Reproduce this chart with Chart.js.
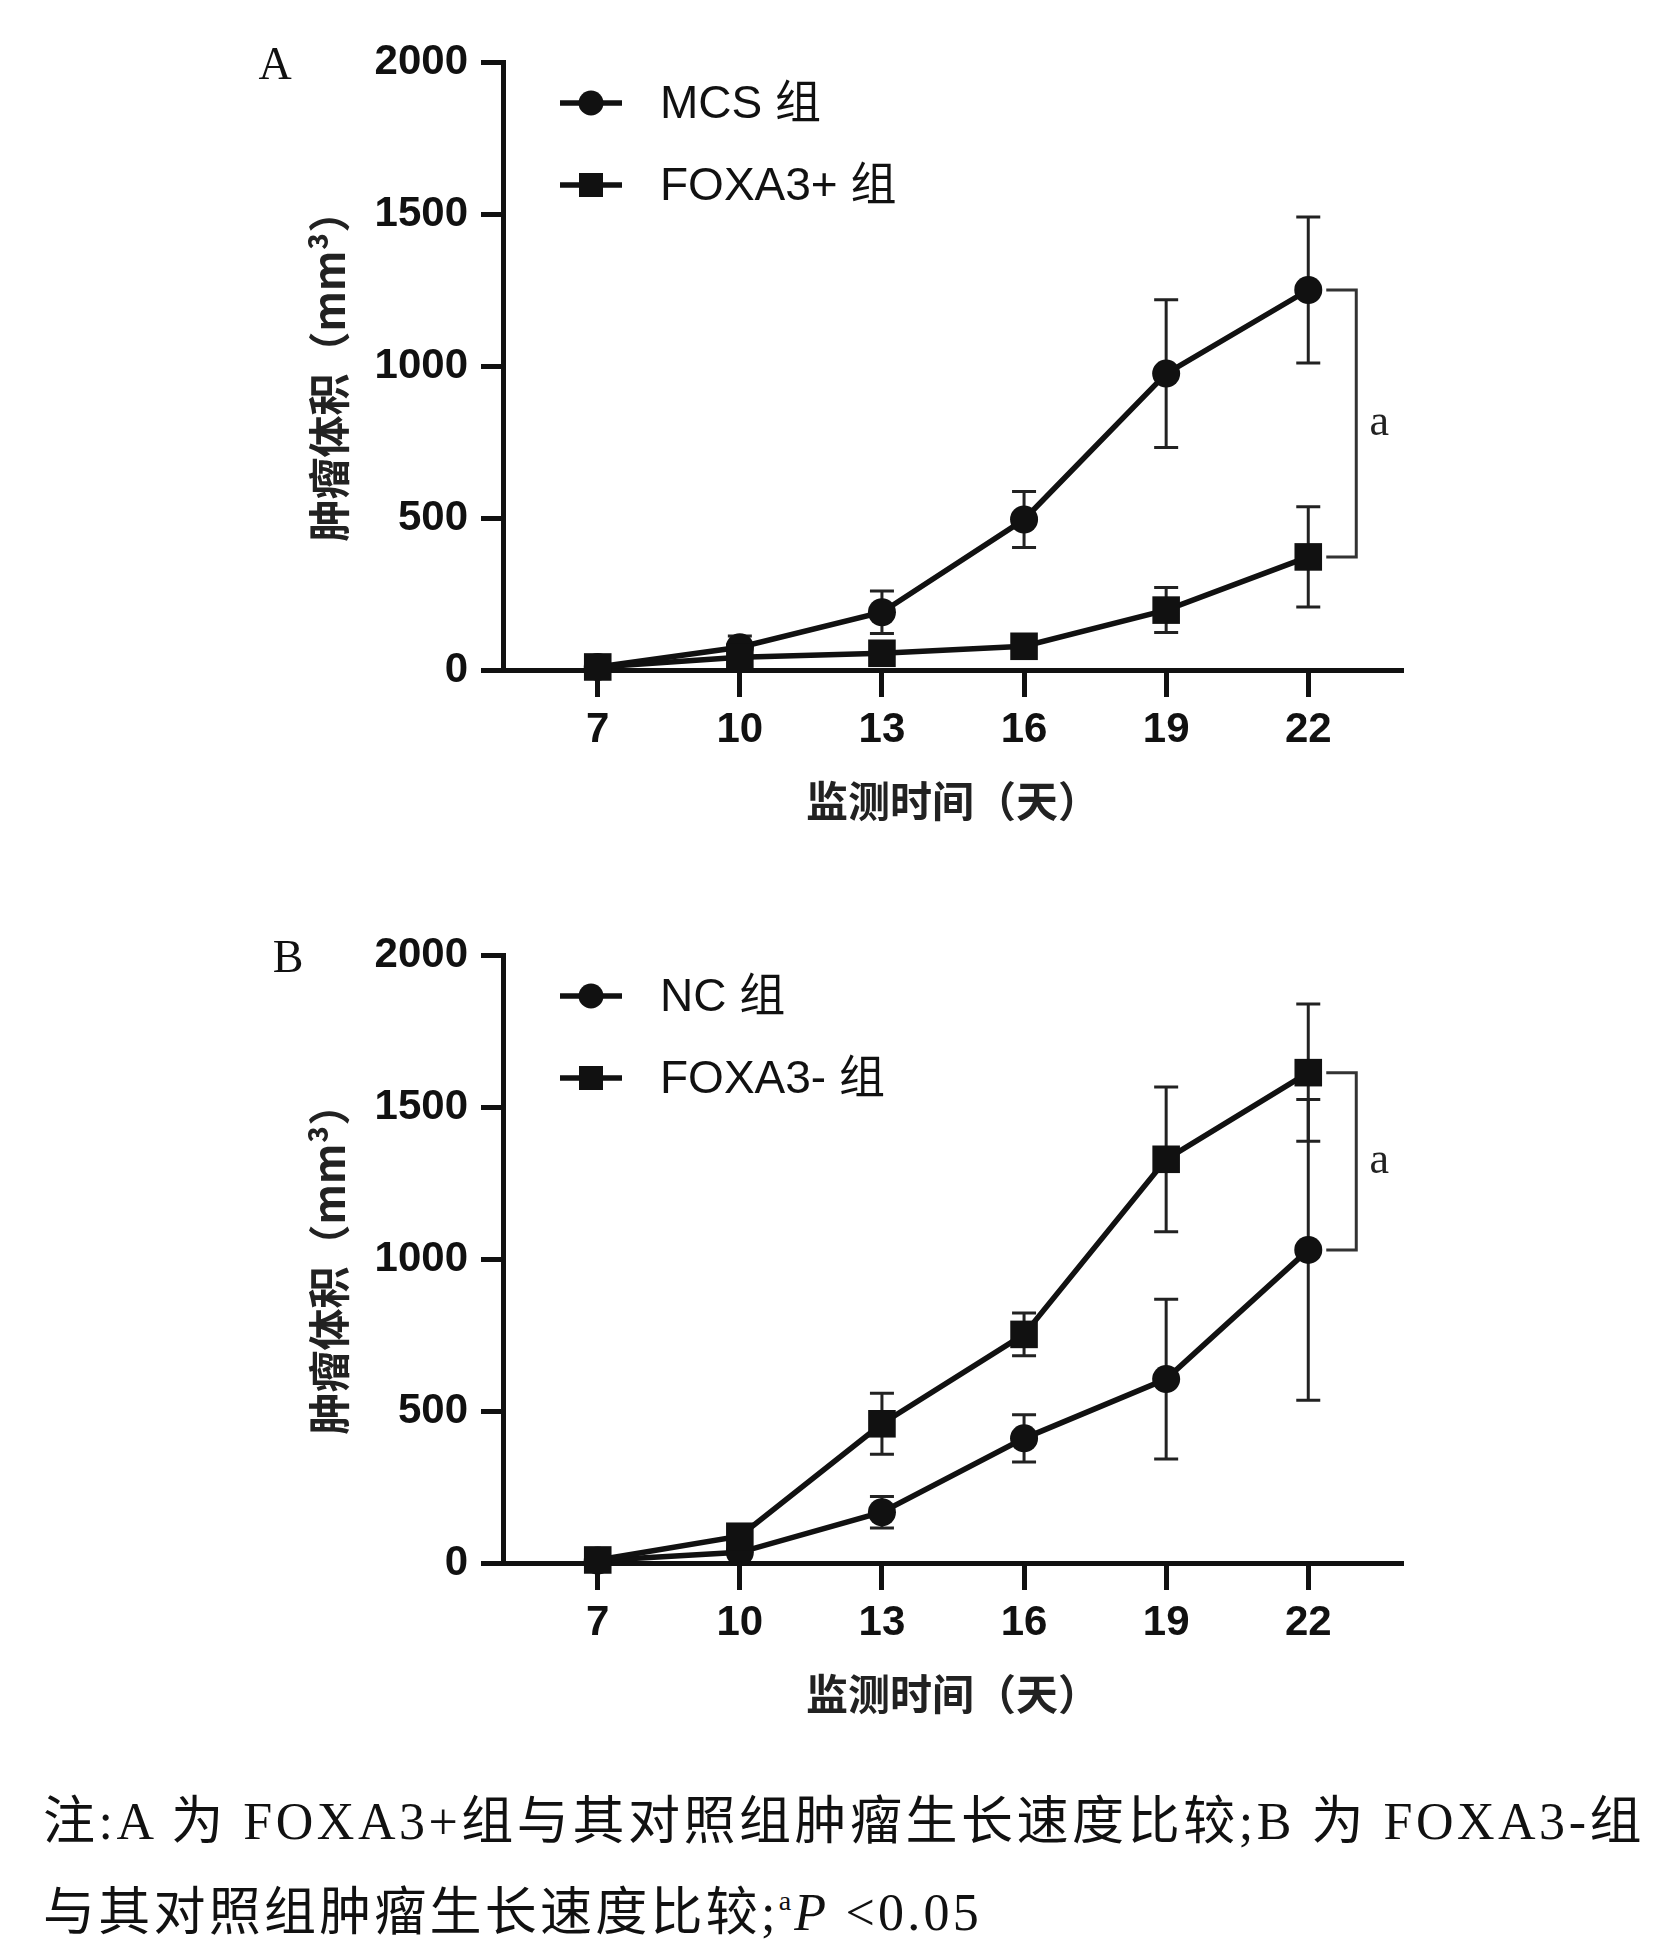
<!DOCTYPE html>
<html>
<head>
<meta charset="utf-8">
<script src="https://cdn.jsdelivr.net/npm/chart.js@4.4.1/dist/chart.umd.min.js"></script>
<style>
  html, body { margin: 0; padding: 0; background: #fff; }
  body { width: 1674px; height: 1952px; position: relative; overflow: hidden; }
  .panel { position: absolute; left: 0; width: 1674px; height: 880px; }
  .note { position: absolute; left: 43px; font-family: "Liberation Serif", "Noto Sans CJK SC", serif;
          font-size: 52px; line-height: 1; white-space: nowrap; color: #111; }
  .note sup { font-size: 28px; vertical-align: 20px; }
</style>
</head>
<body>
<div class="panel" style="top:0"><canvas id="chartA"></canvas></div>
<div class="panel" style="top:893px"><canvas id="chartB"></canvas></div>
<div class="note" id="note1" style="top:1796px">注:A 为 FOXA3+组与其对照组肿瘤生长速度比较;B 为 FOXA3-组</div>
<div class="note" id="note2" style="top:1887px">与其对照组肿瘤生长速度比较;<sup>a</sup><i>P</i> &lt;0.05</div>

<script>
// days of monitoring and axis ticks
const days = [7, 10, 13, 16, 19, 22];
const yTicks = [0, 500, 1000, 1500, 2000];

// panel A
const mcsMean = [10, 75, 190, 495, 975, 1250];
const mcsSd = [15, 37, 70, 92, 243, 240];
const foxPlusMean = [10, 42, 55, 78, 197, 372];
const foxPlusSd = [10, 12, 12, 8, 74, 165];

// panel B
const ncMean = [8, 35, 167, 410, 605, 1030];
const ncSd = [10, 12, 52, 78, 263, 495];
const foxMinusMean = [10, 88, 458, 752, 1328, 1613];
const foxMinusSd = [10, 15, 100, 70, 238, 226];

const BLACK = "#111";
const SANS = "'Liberation Sans', 'Noto Sans CJK SC', sans-serif";
const SERIF = "'Liberation Serif', 'Noto Sans CJK SC', serif";

// error bars, bracket, legend and panel letter
const panelDecor = {
    id: "panelDecor",
    beforeDatasetsDraw(chart, args, opts) {
        const ctx = chart.ctx, xs = chart.scales.x, ys = chart.scales.y;
        ctx.save();
        ctx.strokeStyle = "#222";
        ctx.lineWidth = 3;
        chart.data.datasets.forEach((ds, i) => {
            const sd = opts.sd[i];
            ds.data.forEach((p, j) => {
                const x = xs.getPixelForValue(p.x);
                const yTop = ys.getPixelForValue(p.y + sd[j]);
                const yBot = ys.getPixelForValue(Math.max(0, p.y - sd[j]));
                ctx.beginPath();
                ctx.moveTo(x, yTop); ctx.lineTo(x, yBot);
                ctx.moveTo(x - 12, yTop); ctx.lineTo(x + 12, yTop);
                ctx.moveTo(x - 12, yBot); ctx.lineTo(x + 12, yBot);
                ctx.stroke();
            });
        });
        ctx.restore();
    },
    afterDraw(chart, args, opts) {
        const ctx = chart.ctx, xs = chart.scales.x, ys = chart.scales.y, area = chart.chartArea;
        ctx.save();

        // significance bracket at the last day
        const last = days.length - 1;
        const y1 = ys.getPixelForValue(chart.data.datasets[0].data[last].y);
        const y2 = ys.getPixelForValue(chart.data.datasets[1].data[last].y);
        const bx0 = xs.getPixelForValue(days[last]) + 18, bx1 = bx0 + 30;
        ctx.strokeStyle = "#333";
        ctx.lineWidth = 3;
        ctx.beginPath();
        ctx.moveTo(bx0, y1); ctx.lineTo(bx1, y1); ctx.lineTo(bx1, y2); ctx.lineTo(bx0, y2);
        ctx.stroke();
        ctx.fillStyle = "#222";
        ctx.font = "44px " + SERIF;
        ctx.textAlign = "center";
        ctx.textBaseline = "middle";
        ctx.fillText("a", bx1 + 23, (y1 + y2) / 2);

        // legend
        opts.legend.forEach((item, k) => {
            const lx = area.left + 57, ly = area.top + 41 + k * 82;
            ctx.strokeStyle = BLACK;
            ctx.lineWidth = 5.5;
            ctx.beginPath();
            ctx.moveTo(lx, ly); ctx.lineTo(lx + 62, ly);
            ctx.stroke();
            ctx.fillStyle = BLACK;
            if (item.style === "circle") {
                ctx.beginPath();
                ctx.arc(lx + 31, ly, 12.5, 0, Math.PI * 2);
                ctx.fill();
            } else {
                ctx.fillRect(lx + 19, ly - 12, 24, 24);
            }
            ctx.font = "46px " + SANS;
            ctx.textAlign = "left";
            ctx.fillText(item.label, area.left + 157, ly + 2);
        });

        // panel letter
        ctx.font = "46px " + SERIF;
        ctx.textAlign = "center";
        ctx.fillText(opts.letter, opts.letterX, 67);
        ctx.restore();
    }
};

function makeChart(id, series, sds, legend, letter, letterX) {
    const ctx = document.getElementById(id).getContext("2d");
    return new Chart(ctx, {
        type: "line",
        data: {
            datasets: series.map((s, i) => ({
                label: legend[i].label,
                data: days.map((d, j) => ({ x: d, y: s[j] })),
                borderColor: BLACK,
                borderWidth: 5.5,
                backgroundColor: BLACK,
                pointBackgroundColor: BLACK,
                pointBorderWidth: 0,
                pointStyle: legend[i].style,
                pointRadius: legend[i].style === "circle" ? 14 : 19.5,
                tension: 0,
                clip: false,
                order: legend[i].style === "rect" ? 0 : 1,
            })),
        },
        options: {
            responsive: true,
            maintainAspectRatio: false,
            animation: false,
            layout: { padding: { top: 62, right: 271, bottom: 0, left: 0 } },
            plugins: {
                legend: { display: false },
                tooltip: { enabled: false },
                panelDecor: { sd: sds, legend: legend, letter: letter, letterX: letterX },
            },
            scales: {
                x: {
                    type: "linear",
                    min: 5,
                    max: 24,
                    afterBuildTicks: (s) => { s.ticks = days.map((v) => ({ value: v })); },
                    afterFit: (s) => { s.height = 210; },
                    border: { display: true, color: BLACK, width: 5 },
                    grid: { drawOnChartArea: false, drawTicks: true, tickLength: 27, tickWidth: 5, color: BLACK },
                    ticks: { color: BLACK, padding: 8, maxRotation: 0, callback: (v) => String(v),
                             font: { family: SANS, size: 42, weight: "bold" } },
                    title: {
                        display: true,
                        text: "监测时间（天）",
                        color: "#222",
                        font: { family: "'Noto Sans CJK SC', sans-serif", size: 42, weight: "bold" },
                        padding: { top: 0, bottom: 54 },
                    },
                },
                y: {
                    min: 0,
                    max: 2000,
                    afterBuildTicks: (s) => { s.ticks = yTicks.map((v) => ({ value: v })); },
                    afterFit: (s) => { s.width = 503; },
                    border: { display: true, color: BLACK, width: 5 },
                    grid: { drawOnChartArea: false, drawTicks: true, tickLength: 22, tickWidth: 5, color: BLACK },
                    ticks: { color: BLACK, padding: 13, callback: (v) => String(v),
                             font: { family: SANS, size: 42, weight: "bold" } },
                    title: {
                        display: true,
                        text: "肿瘤体积（mm³）",
                        color: "#222",
                        font: { family: "'Noto Sans CJK SC', sans-serif", size: 42, weight: "bold" },
                        padding: { top: 304, bottom: 0 },
                    },
                },
            },
        },
        plugins: [panelDecor],
    });
}

makeChart("chartA", [mcsMean, foxPlusMean], [mcsSd, foxPlusSd],
    [{ label: "MCS 组", style: "circle" }, { label: "FOXA3+ 组", style: "rect" }], "A", 275);
makeChart("chartB", [ncMean, foxMinusMean], [ncSd, foxMinusSd],
    [{ label: "NC 组", style: "circle" }, { label: "FOXA3- 组", style: "rect" }], "B", 288);

// stretch the note lines to the width they have in the figure
function fitLine(id, target) {
    const el = document.getElementById(id);
    const w = el.getBoundingClientRect().width;
    const n = el.textContent.length;
    el.style.letterSpacing = ((target - w) / n) + "px";
}
fitLine("note1", 1602);
fitLine("note2", 939);
</script>
</body>
</html>
